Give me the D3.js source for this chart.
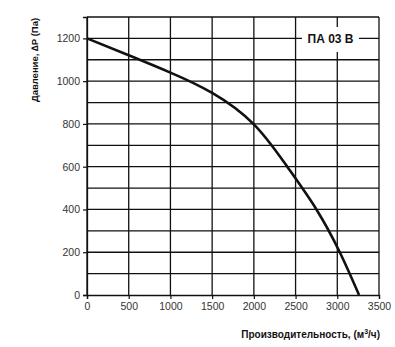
<!DOCTYPE html>
<html>
<head>
<meta charset="utf-8">
<script src="https://cdn.jsdelivr.net/npm/d3@7"></script>
<style>
  html, body { margin: 0; padding: 0; background: #fff; }
  svg { display: block; font-family: "Liberation Sans", Arial, sans-serif; }
</style>
</head>
<body>
<svg id="chart" width="395" height="347"></svg>
<script>
// Fan performance curve: airflow (m³/h) vs pressure (Pa)
const airflow  = [0, 500, 1000, 1500, 2000, 2400, 2750, 3030, 3261];
const pressure = [1200, 1121, 1040, 945, 798, 600, 400, 200, 0];
const xTicks = [0, 500, 1000, 1500, 2000, 2500, 3000, 3500];
const yTicks = [0, 200, 400, 600, 800, 1000, 1200];
const yGrid  = [100, 200, 300, 400, 500, 600, 700, 800, 900, 1000, 1100, 1200, 1300];
const modelName = "ПА 03 В";

const svg = d3.select("#chart");
const m = { left: 87, right: 379, top: 17, bottom: 295 };

const x = d3.scaleLinear().domain([0, 3500]).range([m.left, m.right]);
const y = d3.scaleLinear().domain([0, 1300]).range([m.bottom, m.top]);

const grid = svg.append("g").attr("stroke", "#111").attr("stroke-width", 1.3);
grid.selectAll("line.v").data(xTicks).join("line")
  .attr("x1", d => x(d)).attr("x2", d => x(d))
  .attr("y1", m.top).attr("y2", m.bottom);
grid.selectAll("line.h").data(yGrid).join("line")
  .attr("x1", m.left).attr("x2", m.right)
  .attr("y1", d => y(d)).attr("y2", d => y(d));

// axes
const xAxis = svg.append("g")
  .attr("transform", `translate(0,${m.bottom})`)
  .call(d3.axisBottom(x).tickValues(xTicks).tickSize(4).tickPadding(4).tickFormat(d3.format("d")));
const yAxis = svg.append("g")
  .attr("transform", `translate(${m.left},0)`)
  .call(d3.axisLeft(y).tickValues(yTicks).tickSize(4).tickPadding(3).tickFormat(d3.format("d")));
[xAxis, yAxis].forEach(a => {
  a.select(".domain").attr("stroke", "#111").attr("stroke-width", 1.3);
  a.selectAll(".tick line").attr("stroke", "#111").attr("stroke-width", 1.2);
  a.selectAll(".tick text").attr("fill", "#333").style("font-size", "10.5px")
    .style("font-family", "'Liberation Sans', Arial, sans-serif");
});

// performance curve
const line = d3.line().x((d, i) => x(airflow[i])).y(d => y(d)).curve(d3.curveNatural);
svg.append("path").datum(pressure)
  .attr("d", line)
  .attr("fill", "none")
  .attr("stroke", "#111")
  .attr("stroke-width", 2.6)
  .attr("stroke-linecap", "butt");

// model label on a white patch over the grid
const lbl = svg.append("g");
lbl.append("rect")
  .attr("x", 302).attr("y", 27)
  .attr("width", 57).attr("height", 25)
  .attr("fill", "#fff");
lbl.append("text")
  .attr("x", 330.5).attr("y", y(1200) + 4.5)
  .attr("text-anchor", "middle")
  .attr("font-size", 12).attr("font-weight", "bold").attr("fill", "#111")
  .text(modelName);

// axis titles
svg.append("text")
  .attr("transform", `translate(38,60) rotate(-90)`)
  .attr("text-anchor", "middle")
  .attr("font-size", 9.5).attr("font-weight", "bold").attr("fill", "#111")
  .text("Давление, ∆P (Па)");

const xt = svg.append("text")
  .attr("x", 380).attr("y", 338)
  .attr("text-anchor", "end")
  .attr("font-size", 10).attr("font-weight", "bold").attr("fill", "#111");
xt.append("tspan").text("Производительность, (м");
xt.append("tspan").attr("font-size", 7).attr("dy", -4).text("3");
xt.append("tspan").attr("dy", 4).text("/ч)");
</script>
</body>
</html>
